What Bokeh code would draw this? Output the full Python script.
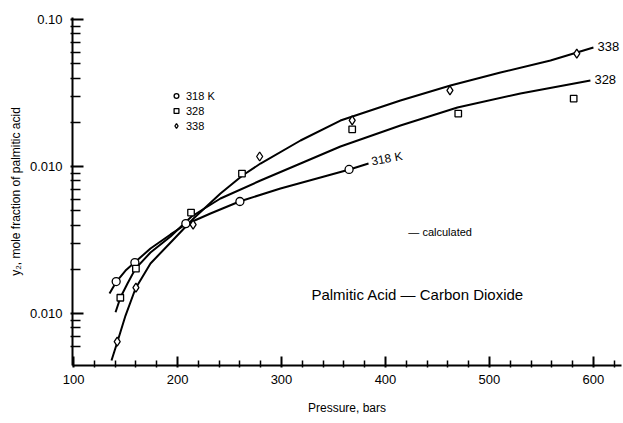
from bokeh.plotting import figure
from bokeh.models import FixedTicker, Legend, LegendItem, Label
from bokeh.embed import file_html
from bokeh.resources import INLINE
from bokeh.core.properties import value

FONT = "Liberation Sans"

# measured points (pressure, bars ; mole fraction)
p318 = [141, 159, 208, 260, 365]
y318 = [0.00165, 0.00222, 0.00409, 0.00578, 0.00955]
p328 = [145, 160, 213, 262, 368, 470, 581]
y328 = [0.00128, 0.00202, 0.00486, 0.00896, 0.0179, 0.0229, 0.0290]
p338 = [142, 160, 215, 279, 368, 462, 584]
y338 = [0.000645, 0.00150, 0.00403, 0.0117, 0.0206, 0.0329, 0.0587]

# calculated curves
calc318_p = [134.6, 141.3, 150, 158.7, 174, 193.3, 207.7, 231.7, 259.6, 299, 337.5, 365.4, 383.7]
calc318_y = [0.00137, 0.00165, 0.00196, 0.00222, 0.00277, 0.00345, 0.00403, 0.00479, 0.00578,
             0.00709, 0.00842, 0.00954, 0.01048]
calc328_p = [140.4, 145.2, 151.9, 159.6, 174, 193.3, 213.5, 241.3, 279.8, 318.3, 356.7, 414.4,
             469.2, 529.8, 597.1]
calc328_y = [0.00102, 0.00129, 0.00160, 0.00202, 0.00260, 0.00334, 0.00457, 0.00606, 0.00803,
             0.01048, 0.01368, 0.0190, 0.0252, 0.0314, 0.0385]
calc338_p = [136.5, 142.3, 150, 159.6, 174, 195.2, 215.4, 241.3, 262.5, 279.8, 318.3, 356.7,
             414.4, 462.5, 510.6, 558.7, 600]
calc338_y = [0.000479, 0.000645, 0.000969, 0.00148, 0.00219, 0.00314, 0.00443, 0.00655, 0.00869,
             0.01048, 0.01503, 0.02055, 0.0281, 0.0356, 0.0436, 0.0526, 0.0645]

x_major = [100, 200, 300, 400, 500, 600]
x_minor = [120, 140, 160, 180, 220, 240, 260, 280, 320, 340, 360, 380,
           420, 440, 460, 480, 520, 540, 560, 580, 620]
y_major = [0.001, 0.01, 0.1]
y_minor = [0.0006, 0.0007, 0.0008, 0.0009,
           0.002, 0.003, 0.004, 0.005, 0.006, 0.007, 0.008, 0.009,
           0.02, 0.03, 0.04, 0.05, 0.06, 0.07, 0.08, 0.09]
y_labels = {0.001: "0.010", 0.01: "0.010", 0.1: "0.10"}

X0, X1 = 99, 627
Y0, Y1 = 0.000443, 0.1032
W, H = 622, 418
B_LEFT, B_TOP, B_BOTTOM, B_RIGHT = 72, 17, 53, 1

p = figure(width=W, height=H, x_range=(X0, X1), y_range=(Y0, Y1),
           y_axis_type="log", output_backend="svg", toolbar_location=None,
           min_border_left=B_LEFT, min_border_top=B_TOP, min_border_bottom=B_BOTTOM,
           min_border_right=B_RIGHT)
p.outline_line_color = None
p.xgrid.visible = False
p.ygrid.visible = False

xa = p.xaxis[0]
xa.ticker = FixedTicker(ticks=x_major, minor_ticks=x_minor)
xa.axis_label = "Pressure, bars"
ya = p.yaxis[0]
ya.ticker = FixedTicker(ticks=y_major, minor_ticks=y_minor)
ya.major_label_overrides = y_labels
ya.axis_label = "y\u2082, mole fraction of palmitic acid"
for ax in (xa, ya):
    ax.axis_line_width = 2
    ax.axis_line_color = "black"
    ax.major_tick_line_color = "black"
    ax.minor_tick_line_color = "black"
    ax.major_tick_line_width = 2
    ax.minor_tick_line_width = 1.5
    ax.major_label_text_font = FONT
    ax.major_label_text_font_size = "13px"
    ax.major_label_text_color = "black"
    ax.axis_label_text_font = FONT
    ax.axis_label_text_font_style = "normal"
    ax.axis_label_text_font_size = "12px"
    ax.axis_label_text_color = "black"

xa.major_tick_in = 9
xa.major_tick_out = 2
xa.minor_tick_in = 5
xa.minor_tick_out = 2
xa.major_label_standoff = 7
xa.axis_label_standoff = 14

ya.major_tick_in = 11
ya.major_tick_out = 2
ya.minor_tick_in = 8
ya.minor_tick_out = 2
ya.major_label_standoff = 8
ya.axis_label_standoff = 4

for cx, cy in ((calc318_p, calc318_y), (calc328_p, calc328_y), (calc338_p, calc338_y)):
    p.line(cx, cy, line_color="black", line_width=2)

r318 = p.scatter(p318, y318, marker="circle", size=8, fill_color="white",
                 line_color="black", line_width=1.3)
r328 = p.scatter(p328, y328, marker="square", size=6.5, fill_color="white",
                 line_color="black", line_width=1.3)
r338 = p.scatter(p338, y338, marker="diamond", size=9, fill_color="white",
                 line_color="black", line_width=1.3)

p.text(x=[calc338_p[-1]], y=[calc338_y[-1]], text=["338"], x_offset=4, y_offset=-1,
       text_baseline="middle", text_font=value(FONT), text_font_size="13px", text_color="black")
p.text(x=[calc328_p[-1]], y=[calc328_y[-1]], text=["328"], x_offset=4, y_offset=-1,
       text_baseline="middle", text_font=value(FONT), text_font_size="13px", text_color="black")
p.text(x=[calc318_p[-1]], y=[calc318_y[-1]], text=["318 K"], x_offset=3, y_offset=-2,
       angle=0.18, text_baseline="middle", text_font=value(FONT), text_font_size="12px",
       text_color="black")

legend = Legend(items=[LegendItem(label="318 K", renderers=[r318]),
                       LegendItem(label="328", renderers=[r328]),
                       LegendItem(label="338", renderers=[r338])],
                location=(98, 232), padding=0, margin=0, spacing=0,
                border_line_color=None, background_fill_alpha=0,
                label_text_font=FONT, label_text_font_size="11px", label_text_color="black",
                label_height=15, glyph_height=15, glyph_width=12, label_standoff=4)
p.add_layout(legend)

p.add_layout(Label(x=422, y=0.00356, text="\u2014 calculated", text_baseline="middle",
                   text_font=FONT, text_font_size="11px", text_color="black"))
p.add_layout(Label(x=431, y=0.00135, text="Palmitic Acid \u2014 Carbon Dioxide",
                   text_align="center", text_baseline="middle",
                   text_font=FONT, text_font_size="15px", text_color="black"))

open("out.html", "w").write(file_html(p, INLINE))
